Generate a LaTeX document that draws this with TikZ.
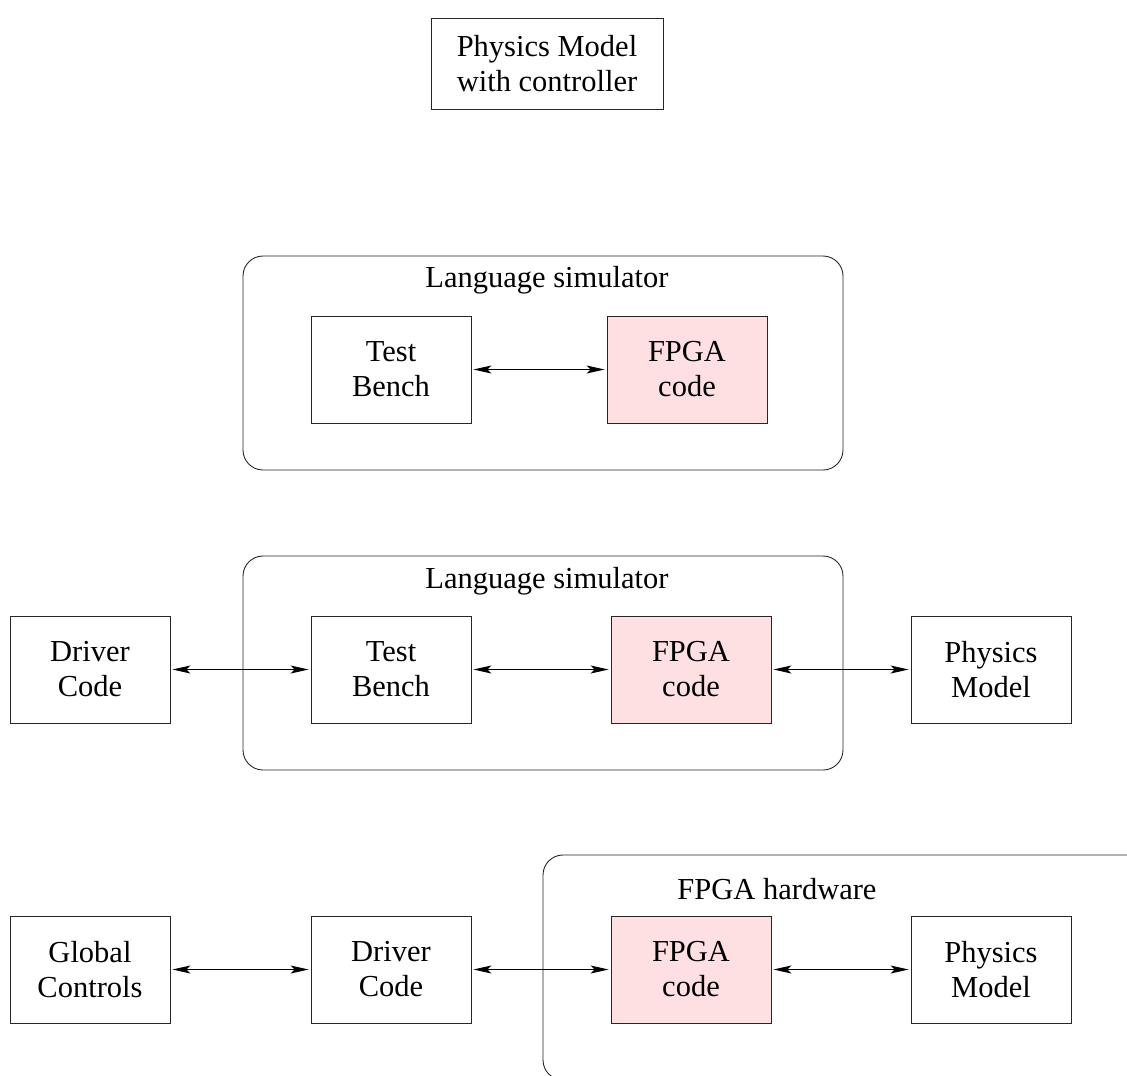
\documentclass[tikz,border=0pt]{standalone}
\usepackage{fontspec}
\setmainfont{Liberation Serif}
\usetikzlibrary{arrows.meta}
\definecolor{fpgapink}{RGB}{255,224,226}
\begin{document}
\begin{tikzpicture}[x=1pt,y=-1pt,
  box/.style={draw=black!85, line width=0.9pt, minimum width=160pt, minimum height=107pt, align=center, inner sep=0pt, font=\fontsize{30.5}{35}\selectfont},
  fpga/.style={box, fill=fpgapink},
  frame/.style={draw=black!85, line width=0.9pt, rounded corners=20pt},
  title/.style={font=\fontsize{30.5}{35}\selectfont, inner sep=0pt},
  link/.style={line width=0.9pt, {Stealth[length=18pt,width=8pt,inset=4pt]}-{Stealth[length=18pt,width=8pt,inset=4pt]}, shorten <=2pt, shorten >=2pt}]
\useasboundingbox (0,0) rectangle (1127,1076);
\clip (0,0) rectangle (1127,1076);
% top
\node[box, minimum width=232pt, minimum height=91pt] (pmc) at (547,63.5) {Physics Model\\with controller};
% row 1
\node[frame, minimum width=600pt, minimum height=214pt] (ls1) at (543,363) {};
\node[title] (ls1t) at (547,280) {Language simulator};
\node[box] (tb1) at (391,369.5) {Test\\Bench};
\node[fpga] (fp1) at (687,369.5) {FPGA\\code};
\draw[link] (tb1) -- (fp1);
% row 2
\node[frame, minimum width=600pt, minimum height=214pt] (ls2) at (543,663) {};
\node[title] (ls2t) at (547,581) {Language simulator};
\node[box] (dc2) at (90,669.5) {Driver\\Code};
\node[box] (tb2) at (391,669.5) {Test\\Bench};
\node[fpga] (fp2) at (691,669.5) {FPGA\\code};
\node[box] (pm2) at (991,669.5) {Physics\\Model};
\draw[link] (dc2) -- (tb2);
\draw[link] (tb2) -- (fp2);
\draw[link] (fp2) -- (pm2);
% row 3
\node[frame, minimum width=617pt, minimum height=225pt] (hw) at (851.5,967.5) {};
\node[title] (hwt) at (777,889) {FPGA hardware};
\node[box] (gc) at (90,969.5) {Global\\Controls};
\node[box] (dc3) at (391,969.5) {Driver\\Code};
\node[fpga] (fp3) at (691,969.5) {FPGA\\code};
\node[box] (pm3) at (991,969.5) {Physics\\Model};
\draw[link] (gc) -- (dc3);
\draw[link] (dc3) -- (fp3);
\draw[link] (fp3) -- (pm3);
\end{tikzpicture}
\end{document}
